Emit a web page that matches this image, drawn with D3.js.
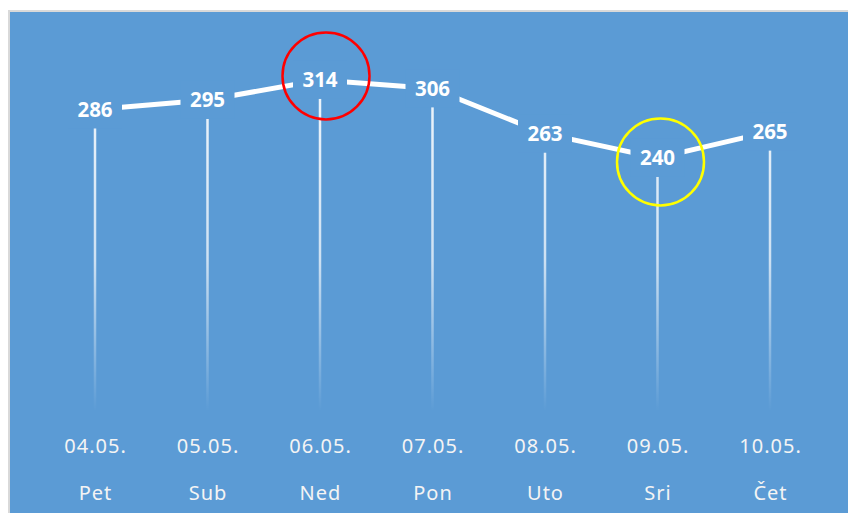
<!DOCTYPE html>
<html>
<head>
<meta charset="utf-8">
<script src="https://cdn.jsdelivr.net/npm/d3@7"></script>
<style>
  html, body { margin: 0; padding: 0; background: #fff; }
  svg { display: block; }
</style>
</head>
<body>
<div id="chart"></div>
<script>
// chart data
const dates = ["04.05.", "05.05.", "06.05.", "07.05.", "08.05.", "09.05.", "10.05."];
const days = ["Pet", "Sub", "Ned", "Pon", "Uto", "Sri", "Čet"];
const values = [286, 295, 314, 306, 263, 240, 265];
// annotation rings: which point, and colour
const highlights = [
  { index: 2, color: "#ff0000" },
  { index: 5, color: "#ffff00" }
];

function drawChart(containerId) {
  const W = 848, H = 513;
  const bg = "#5b9bd5";

  d3.select(`#${containerId}`).html("");

  const svg = d3.select(`#${containerId}`)
      .append("svg")
          .attr("width", W)
          .attr("height", H);

  // frame + plot background
  svg.append("rect")
      .attr("x", 8).attr("y", 10)
      .attr("width", W - 8).attr("height", H - 10)
      .attr("fill", "#d9d9d9");
  svg.append("rect")
      .attr("x", 10).attr("y", 12)
      .attr("width", W - 10).attr("height", H - 12)
      .attr("fill", bg);

  const x = d3.scalePoint()
      .domain(dates)
      .range([38.75, 826.25])
      .padding(0.5);

  const y = d3.scaleLinear()
      .domain([0, 350])
      .range([411, 42]);

  // fading drop lines
  const defs = svg.append("defs");
  const grad = defs.append("linearGradient")
      .attr("id", "dropFade")
      .attr("gradientUnits", "userSpaceOnUse")
      .attr("x1", 0).attr("x2", 0)
      .attr("y1", y(320)).attr("y2", y(0));
  grad.append("stop").attr("offset", "0").attr("stop-color", "#fff").attr("stop-opacity", 0.92);
  grad.append("stop").attr("offset", "0.55").attr("stop-color", "#fff").attr("stop-opacity", 0.7);
  grad.append("stop").attr("offset", "1").attr("stop-color", "#fff").attr("stop-opacity", 0);

  svg.append("g")
      .selectAll("line")
      .data(values)
      .join("line")
          .attr("x1", (d, i) => x(dates[i]))
          .attr("x2", (d, i) => x(dates[i]))
          .attr("y1", d => y(d))
          .attr("y2", y(0))
          .attr("stroke", "url(#dropFade)")
          .attr("stroke-width", 2.5);

  // main line
  svg.append("path")
      .datum(values)
      .attr("fill", "none")
      .attr("stroke", "#fff")
      .attr("stroke-width", 5)
      .attr("d", d3.line()
          .x((d, i) => x(dates[i]))
          .y(d => y(d))
      );

  // data labels with background box (cuts the lines)
  const labels = svg.append("g")
      .selectAll("g")
      .data(values)
      .join("g")
          .attr("transform", (d, i) => `translate(${x(dates[i])},${y(d)})`);

  labels.append("rect")
      .attr("x", -27).attr("y", -19)
      .attr("width", 54).attr("height", 38)
      .attr("fill", bg);

  labels.append("text")
      .attr("text-anchor", "middle")
      .attr("y", 7.5)
      .style("font-family", "'Noto Sans', sans-serif")
      .style("font-size", "20.5px")
      .style("font-weight", "bold")
      .style("fill", "#fff")
      .text(d => d);

  // annotation rings
  const ringOffset = [[6, -4], [3, 4]];
  svg.append("g")
      .selectAll("circle")
      .data(highlights)
      .join("circle")
          .attr("cx", (d, k) => x(dates[d.index]) + ringOffset[k][0])
          .attr("cy", (d, k) => y(values[d.index]) + ringOffset[k][1])
          .attr("r", 43.5)
          .attr("fill", "none")
          .attr("stroke", d => d.color)
          .attr("stroke-width", 2.5);

  // category axes: dates and day names
  const styleAxis = (g, baseline) => {
      g.attr("transform", `translate(0,${baseline})`);
      g.select(".domain").remove();
      g.selectAll(".tick line").remove();
      g.selectAll(".tick text")
          .attr("y", 0)
          .attr("dy", 0)
          .style("font-family", "'Noto Sans', sans-serif")
          .style("font-size", "20px")
          .style("letter-spacing", "1px")
          .style("fill", "#f4f4f4");
  };

  svg.append("g")
      .call(d3.axisBottom(x).tickSize(0))
      .call(g => styleAxis(g, 453));

  const xDay = d3.scalePoint()
      .domain(days)
      .range(x.range())
      .padding(0.5);

  svg.append("g")
      .call(d3.axisBottom(xDay).tickSize(0))
      .call(g => styleAxis(g, 500));
}

document.addEventListener("DOMContentLoaded", function () {
  drawChart("chart");
});
</script>
</body>
</html>
